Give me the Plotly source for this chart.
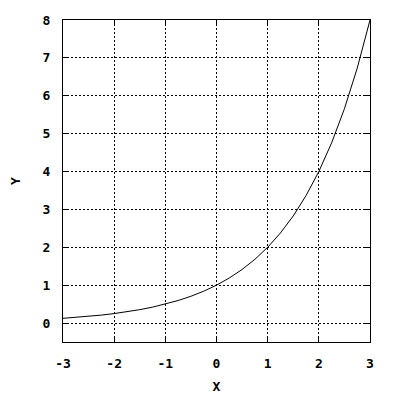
import plotly.graph_objects as go

x_vals = [-3.0, -2.75, -2.5, -2.25, -2.0, -1.75, -1.5, -1.25, -1.0, -0.75, -0.5, -0.25,
          0.0, 0.25, 0.5, 0.75, 1.0, 1.25, 1.5, 1.75, 2.0, 2.25, 2.5, 2.75, 3.0]
y_vals = [0.125, 0.149, 0.177, 0.210, 0.25, 0.297, 0.354, 0.420, 0.5, 0.595, 0.707, 0.841,
          1.0, 1.189, 1.414, 1.682, 2.0, 2.378, 2.828, 3.364, 4.0, 4.757, 5.657, 6.727, 8.0]
x_ticks = [-3, -2, -1, 0, 1, 2, 3]
y_ticks = [0, 1, 2, 3, 4, 5, 6, 7, 8]

font = dict(family="DejaVu Sans Mono", size=13, color="black")
tfont = dict(family="DejaVu Sans Mono", size=13, color="black", weight="bold")

fig = go.Figure()
fig.add_trace(go.Scatter(x=x_vals, y=y_vals, mode="lines",
                         line=dict(color="black", width=1), showlegend=False))

axis_common = dict(showline=True, linecolor="black", linewidth=1, mirror="ticks",
                   ticks="inside", ticklen=5, tickcolor="black",
                   showgrid=True, gridcolor="black", griddash="2px,2px", gridwidth=1,
                   zeroline=False, tickfont=tfont, ticklabelstandoff=9, automargin=False)

fig.update_xaxes(range=[-3, 3], tickvals=x_ticks, ticktext=[str(v) for v in x_ticks],
                 title=dict(text="<b>X</b>", font=font, standoff=12), **axis_common)
fig.update_yaxes(range=[-0.5, 8], tickvals=y_ticks, ticktext=[str(v) for v in y_ticks],
                 title=dict(text="<b>Y</b>", font=font, standoff=26), **axis_common)

fig.update_layout(width=392, height=392, plot_bgcolor="white", paper_bgcolor="white",
                  margin=dict(l=55, r=30, t=12, b=58, autoexpand=False), font=font)

fig.write_html("out.html")
